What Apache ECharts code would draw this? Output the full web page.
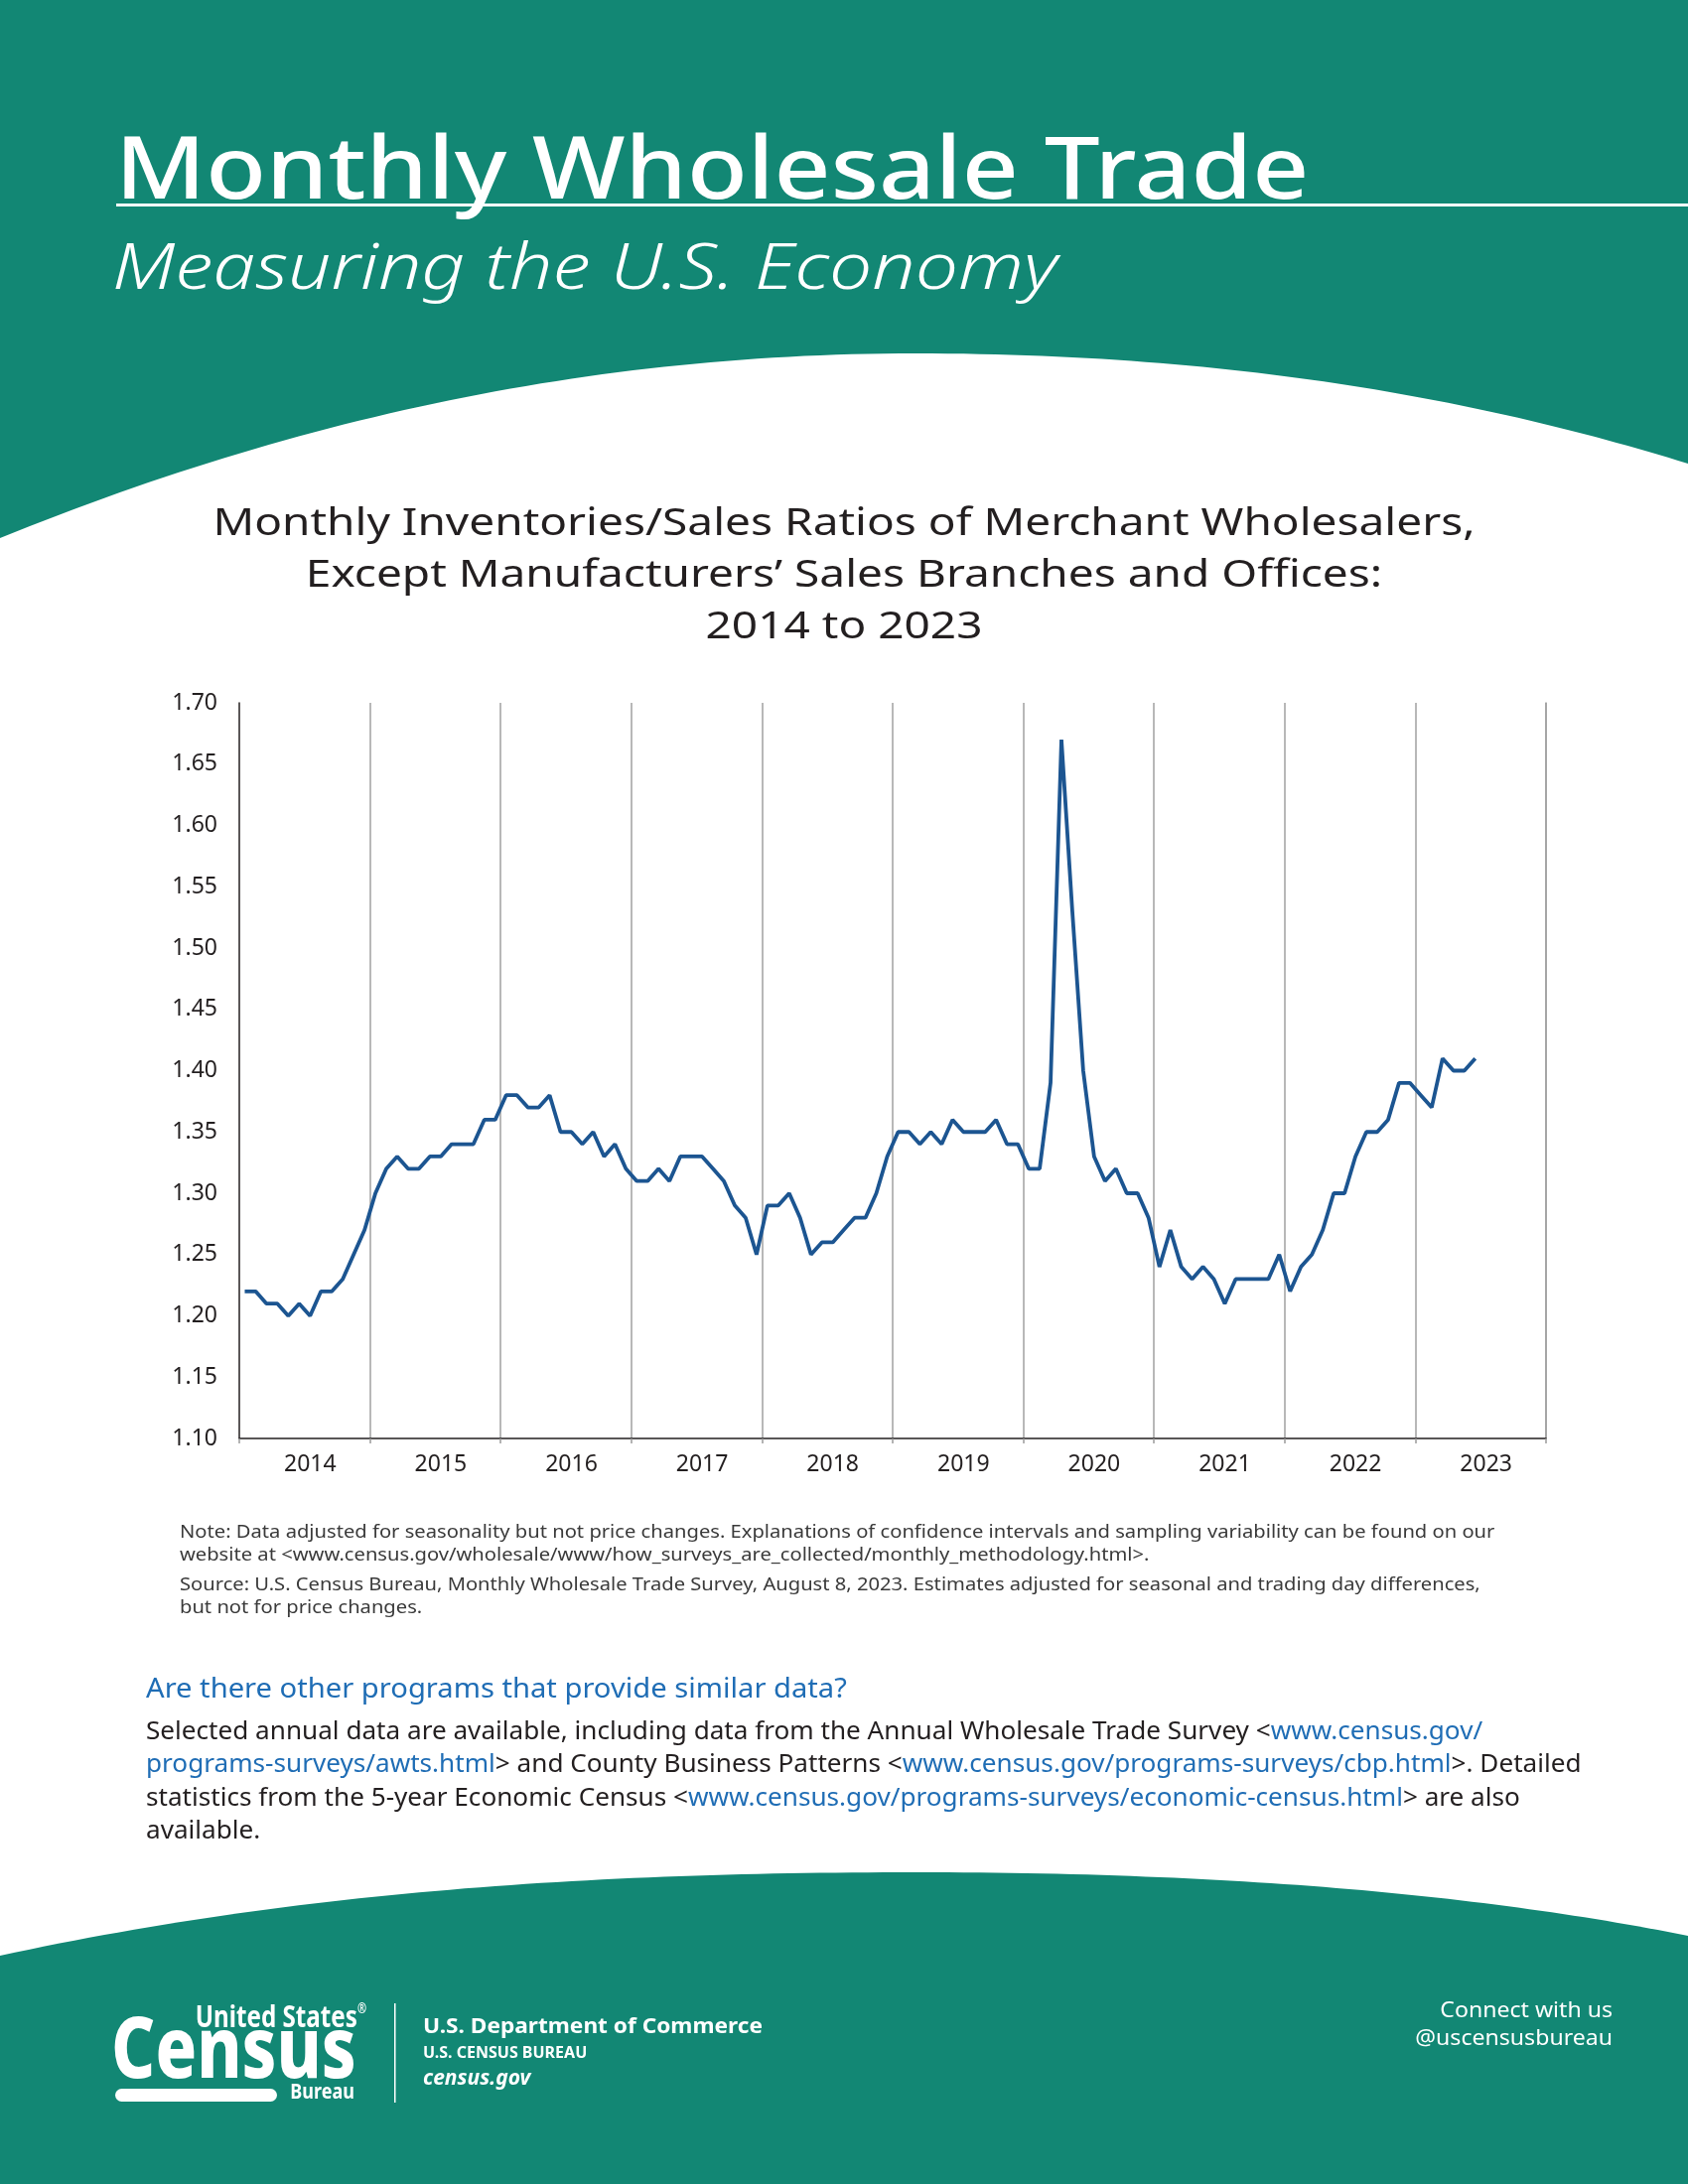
<!DOCTYPE html>
<html>
<head>
<meta charset="utf-8">
<script src="https://cdn.jsdelivr.net/npm/echarts@6/dist/echarts.min.js"></script>
<style>
  html, body { margin: 0; padding: 0; background: #fff; }
  #main { width: 1700px; height: 2200px; }
</style>
</head>
<body>
<div id="main"></div>
<script>
(function () {
    // years on the x axis, one category per month
    let years = ['2014', '2015', '2016', '2017', '2018', '2019', '2020', '2021', '2022', '2023']
    let yTicks = [1.10, 1.15, 1.20, 1.25, 1.30, 1.35, 1.40, 1.45, 1.50, 1.55, 1.60, 1.65, 1.70]

    // inventories/sales ratio, Jan 2014 - Jun 2023
    let ratio2014 = [1.22, 1.22, 1.21, 1.21, 1.20, 1.21, 1.20, 1.22, 1.22, 1.23, 1.25, 1.27]
    let ratio2015 = [1.30, 1.32, 1.33, 1.32, 1.32, 1.33, 1.33, 1.34, 1.34, 1.34, 1.36, 1.36]
    let ratio2016 = [1.38, 1.38, 1.37, 1.37, 1.38, 1.35, 1.35, 1.34, 1.35, 1.33, 1.34, 1.32]
    let ratio2017 = [1.31, 1.31, 1.32, 1.31, 1.33, 1.33, 1.33, 1.32, 1.31, 1.29, 1.28, 1.25]
    let ratio2018 = [1.29, 1.29, 1.30, 1.28, 1.25, 1.26, 1.26, 1.27, 1.28, 1.28, 1.30, 1.33]
    let ratio2019 = [1.35, 1.35, 1.34, 1.35, 1.34, 1.36, 1.35, 1.35, 1.35, 1.36, 1.34, 1.34]
    let ratio2020 = [1.32, 1.32, 1.39, 1.67, 1.53, 1.40, 1.33, 1.31, 1.32, 1.30, 1.30, 1.28]
    let ratio2021 = [1.24, 1.27, 1.24, 1.23, 1.24, 1.23, 1.21, 1.23, 1.23, 1.23, 1.23, 1.25]
    let ratio2022 = [1.22, 1.24, 1.25, 1.27, 1.30, 1.30, 1.33, 1.35, 1.35, 1.36, 1.39, 1.39]
    let ratio2023 = [1.38, 1.37, 1.41, 1.40, 1.40, 1.41]

    let ratios = [].concat(ratio2014, ratio2015, ratio2016, ratio2017, ratio2018,
        ratio2019, ratio2020, ratio2021, ratio2022, ratio2023)

    let months = []
    years.forEach(y => {
        for (let m = 1; m <= 12; m++) months.push(y + '-' + (m < 10 ? '0' + m : m))
    })

    let teal = '#128774'
    let ink = '#231f20'
    let linkBlue = '#1f6db5'
    let font = '"Noto Sans", Lato, sans-serif'

    // decorative page curves: sample cubic segments into polygon points
    function cubic(p0, p1, p2, p3, steps) {
        let pts = []
        for (let k = 0; k <= steps; k++) {
            let t = k / steps, u = 1 - t
            pts.push([
                u * u * u * p0[0] + 3 * u * u * t * p1[0] + 3 * u * t * t * p2[0] + t * t * t * p3[0],
                u * u * u * p0[1] + 3 * u * u * t * p1[1] + 3 * u * t * t * p2[1] + t * t * t * p3[1]
            ])
        }
        return pts
    }
    let headerPts = [[0, 0], [1700, 0]]
        .concat(cubic([1700, 467], [1500, 405], [1250, 356], [922, 356], 60))
        .concat(cubic([922, 356], [600, 356], [300, 420], [0, 542], 60))
    let footerPts = cubic([0, 1970], [300, 1905], [600, 1886], [922, 1886], 60)
        .concat(cubic([922, 1886], [1250, 1886], [1500, 1910], [1700, 1950], 60))
        .concat([[1700, 2200], [0, 2200]])

    let chart = echarts.init(document.getElementById('main'), null, { renderer: 'canvas' })

    let option = {
        backgroundColor: '#fff',
        animation: false,
        grid: { left: 241, right: 143, top: 708, bottom: 751 },
        xAxis: {
            type: 'category',
            data: months,
            boundaryGap: true,
            axisLine: { lineStyle: { color: ink, width: 1.5 } },
            axisTick: {
                show: true,
                length: 5,
                interval: (idx) => idx % 12 === 0,
                lineStyle: { color: '#9a9a9a', width: 1.5 }
            },
            axisLabel: {
                interval: (idx) => idx % 12 === 6,
                formatter: (v) => v.slice(0, 4),
                color: ink,
                fontFamily: font,
                fontSize: 23,
                margin: 15
            },
            splitLine: {
                show: true,
                interval: (idx) => idx % 12 === 0 && idx > 0,
                lineStyle: { color: '#a0a0a0', width: 1.5 }
            }
        },
        yAxis: [{
            type: 'value',
            min: yTicks[0],
            max: yTicks[yTicks.length - 1],
            interval: 0.05,
            axisLine: { show: true, lineStyle: { color: ink, width: 1.5 } },
            axisTick: { show: false },
            splitLine: { show: false },
            axisLabel: {
                formatter: (v) => v.toFixed(2),
                color: ink,
                fontFamily: font,
                fontSize: 23,
                margin: 22
            }
        }, {
            type: 'value',
            position: 'right',
            min: yTicks[0],
            max: yTicks[yTicks.length - 1],
            axisLine: { show: true, lineStyle: { color: '#a0a0a0', width: 1.5 } },
            axisTick: { show: false },
            axisLabel: { show: false },
            splitLine: { show: false }
        }],
        series: [{
            type: 'line',
            data: ratios,
            symbol: 'none',
            lineStyle: { color: '#1c5591', width: 3.8 },
            z: 5
        }],
        graphic: [
            {
                type: 'polygon', z: -10, silent: true,
                shape: { points: headerPts },
                style: { fill: teal }
            },
            {
                type: 'polygon', z: -10, silent: true,
                shape: { points: footerPts },
                style: { fill: teal }
            },
            {
                type: 'rect', silent: true,
                shape: { x: 117, y: 205, width: 1583, height: 3 },
                style: { fill: '#fff' }
            },
            {
                type: 'text', x: 116, y: 219, scaleX: 1.13,
                style: {
                    text: 'Monthly Wholesale Trade', fill: '#fff',
                    fontFamily: font, fontWeight: 500, fontSize: 88,
                    textAlign: 'left', textVerticalAlign: 'bottom'
                }
            },
            {
                type: 'text', x: 113, y: 273, scaleX: 1.2,
                style: {
                    text: 'Measuring the U.S. Economy', fill: '#fff',
                    fontFamily: font, fontWeight: 300, fontStyle: 'italic', fontSize: 64,
                    textAlign: 'left', textVerticalAlign: 'middle'
                }
            },
            {
                type: 'text', x: 850, y: 580, scaleX: 1.18,
                style: {
                    text: 'Monthly Inventories/Sales Ratios of Merchant Wholesalers,\nExcept Manufacturers\u2019 Sales Branches and Offices:\n2014 to 2023',
                    fill: ink, fontFamily: font, fontWeight: 400, fontSize: 39,
                    lineHeight: 52, textAlign: 'center', textVerticalAlign: 'middle'
                }
            },
            {
                type: 'text', x: 181, y: 1555, scaleX: 1.12,
                style: {
                    text: 'Note: Data adjusted for seasonality but not price changes. Explanations of confidence intervals and sampling variability can be found on our\nwebsite at <www.census.gov/wholesale/www/how_surveys_are_collected/monthly_methodology.html>.',
                    fill: '#3a3a3a', fontFamily: font, fontSize: 18, lineHeight: 23,
                    textAlign: 'left', textVerticalAlign: 'middle'
                }
            },
            {
                type: 'text', x: 181, y: 1608, scaleX: 1.12,
                style: {
                    text: 'Source: U.S. Census Bureau, Monthly Wholesale Trade Survey, August 8, 2023. Estimates adjusted for seasonal and trading day differences,\nbut not for price changes.',
                    fill: '#3a3a3a', fontFamily: font, fontSize: 18, lineHeight: 23,
                    textAlign: 'left', textVerticalAlign: 'middle'
                }
            },
            {
                type: 'text', x: 147, y: 1702, scaleX: 1.08,
                style: {
                    text: 'Are there other programs that provide similar data?',
                    fill: linkBlue, fontFamily: font, fontSize: 27,
                    textAlign: 'left', textVerticalAlign: 'middle'
                }
            },
            {
                type: 'text', x: 147, y: 1795, scaleX: 1.045,
                style: {
                    text: '{t|Selected annual data are available, including data from the Annual Wholesale Trade Survey <}{a|www.census.gov/}\n' +
                        '{a|programs-surveys/awts.html}{t|> and County Business Patterns <}{a|www.census.gov/programs-surveys/cbp.html}{t|>. Detailed}\n' +
                        '{t|statistics from the 5-year Economic Census <}{a|www.census.gov/programs-surveys/economic-census.html}{t|> are also}\n' +
                        '{t|available.}',
                    textAlign: 'left', textVerticalAlign: 'middle',
                    rich: {
                        t: { fill: ink, fontFamily: font, fontSize: 25, lineHeight: 33.5 },
                        a: { fill: linkBlue, fontFamily: font, fontSize: 25, lineHeight: 33.5 }
                    }
                }
            },
            // footer logo block
            {
                type: 'text', x: 369, y: 2033, scaleX: 0.78,
                style: {
                    text: '{n|United States}{r|\u00ae}', fill: '#fff',
                    textAlign: 'right', textVerticalAlign: 'middle',
                    rich: {
                        n: { fill: '#fff', fontFamily: font, fontWeight: 700, fontSize: 31 },
                        r: { fill: '#fff', fontFamily: font, fontWeight: 700, fontSize: 14, verticalAlign: 'top' }
                    }
                }
            },
            {
                type: 'text', x: 112, y: 2068, scaleX: 0.8,
                style: {
                    text: 'Census', fill: '#fff',
                    fontFamily: font, fontWeight: 800, fontSize: 86,
                    textAlign: 'left', textVerticalAlign: 'middle'
                }
            },
            {
                type: 'rect', silent: true,
                shape: { x: 116, y: 2104, width: 163, height: 13, r: 6.5 },
                style: { fill: '#fff' }
            },
            {
                type: 'text', x: 357, y: 2108, scaleX: 0.82,
                style: {
                    text: 'Bureau', fill: '#fff',
                    fontFamily: font, fontWeight: 700, fontSize: 22,
                    textAlign: 'right', textVerticalAlign: 'middle'
                }
            },
            {
                type: 'rect', silent: true,
                shape: { x: 397, y: 2018, width: 1.5, height: 100 },
                style: { fill: '#fff' }
            },
            {
                type: 'text', x: 426, y: 2042, scaleX: 1.03,
                style: {
                    text: 'U.S. Department of Commerce', fill: '#fff',
                    fontFamily: font, fontWeight: 700, fontSize: 22,
                    textAlign: 'left', textVerticalAlign: 'middle'
                }
            },
            {
                type: 'text', x: 426, y: 2068,
                style: {
                    text: 'U.S. CENSUS BUREAU', fill: '#fff',
                    fontFamily: font, fontWeight: 700, fontSize: 16,
                    textAlign: 'left', textVerticalAlign: 'middle'
                }
            },
            {
                type: 'text', x: 426, y: 2094,
                style: {
                    text: 'census.gov', fill: '#fff',
                    fontFamily: font, fontWeight: 700, fontStyle: 'italic', fontSize: 21,
                    textAlign: 'left', textVerticalAlign: 'middle'
                }
            },
            {
                type: 'text', x: 1624, y: 2040, scaleX: 1.1,
                style: {
                    text: 'Connect with us\n@uscensusbureau', fill: '#fff',
                    fontFamily: font, fontWeight: 400, fontSize: 21, lineHeight: 28,
                    textAlign: 'right', textVerticalAlign: 'middle'
                }
            }
        ]
    }

    chart.setOption(option)
    window.addEventListener('resize', function () {
        chart.resize()
    })
})();
</script>
</body>
</html>
